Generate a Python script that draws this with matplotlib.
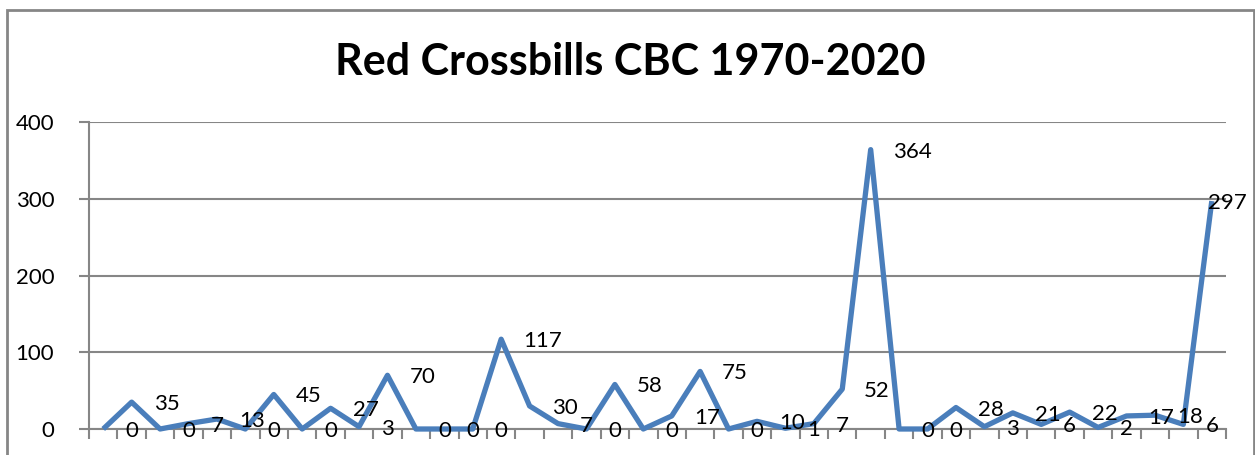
import matplotlib
matplotlib.use("Agg")
import matplotlib.pyplot as plt
from matplotlib.patches import Rectangle

# === DONNÉES ===
titre = "Red Crossbills CBC 1970-2020"
comptages = [0, 35, 0, 7, 13, 0, 45, 0, 27, 3,
             70, 0, 0, 0, 117, 30, 7, 0, 58, 0,
             17, 75, 0, 10, 1, 7, 52, 364, 0, 0,
             28, 3, 21, 6, 22, 2, 17, 18, 6, 297]
graduations_y = [0, 100, 200, 300, 400]

plt.rcParams['font.family'] = ['Lato', 'DejaVu Sans']
gris = '#868686'
bleu = '#4a7ebb'

fig = plt.figure(figsize=(12.55, 4.55), dpi=100)
W, H = 1255, 455
ax = fig.add_axes([89 / W, 1 - 429 / H, (1226 - 89) / W, (429 - 122) / H])

x = list(range(len(comptages)))
ax.plot(x, comptages, color=bleu, lw=3.8, solid_joinstyle='round',
        solid_capstyle='butt', zorder=3, clip_on=False)

# étiquettes de données à droite de chaque point
# (la dernière est repoussée vers l'intérieur, comme dans Excel)
for xi, v in zip(x, comptages):
    decalage = 22 if xi < len(comptages) - 1 else -4
    ax.annotate(str(v), (xi, v), xytext=(decalage, -2), textcoords='offset pixels',
                ha='left', va='center', fontsize=16, color='black',
                annotation_clip=False, zorder=4)

ax.set_xlim(-0.5, len(comptages) - 0.5)
ax.set_ylim(0, 400)
ax.set_yticks(graduations_y)
ax.set_yticklabels([str(g) for g in graduations_y], fontsize=16)
ax.set_xticks([i - 0.5 for i in range(len(comptages) + 1)])
ax.set_xticklabels([])
ax.grid(axis='y', color=gris, lw=1.5)
ax.set_axisbelow(True)
for cote in ['top', 'right']:
    ax.spines[cote].set_visible(False)
for cote in ['left', 'bottom']:
    ax.spines[cote].set_color(gris)
    ax.spines[cote].set_linewidth(1.5)
ax.tick_params(axis='both', color=gris, width=1.5, length=7, direction='out')
ax.tick_params(axis='y', pad=18)

fig.text(630 / W, 1 - 62 / H, titre, ha='center', va='center',
         fontsize=31, fontweight='bold')

# cadre gris autour du graphique
fig.patches.append(Rectangle((7 / W, -0.1), (1254 - 7) / W, 1 - 10 / H + 0.1,
                             transform=fig.transFigure, fill=False,
                             edgecolor=gris, lw=2))

fig.savefig("out.png", dpi=100)
plt.close(fig)
